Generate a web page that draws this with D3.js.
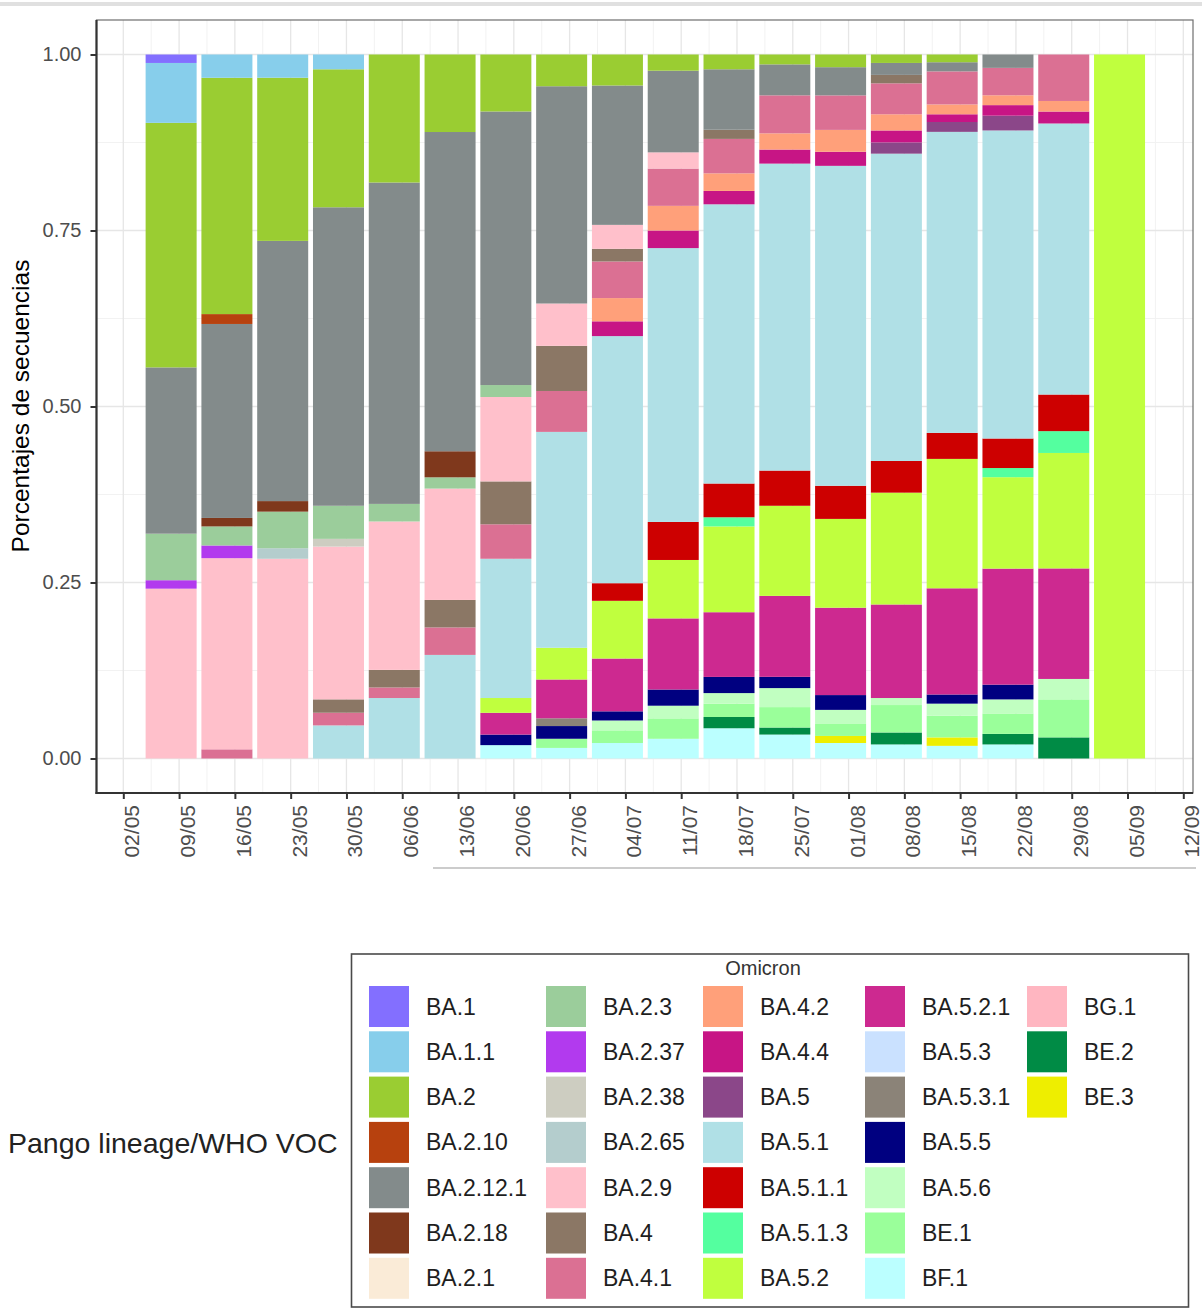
<!DOCTYPE html>
<html>
<head>
<meta charset="utf-8">
<script src="https://cdn.jsdelivr.net/npm/d3@7"></script>
<style>
  html, body { margin: 0; padding: 0; background: #fff; }
  svg { display: block; font-family: "Liberation Sans", Arial, Helvetica, sans-serif; }
</style>
</head>
<body>
<svg id="chart" width="1202" height="1310"></svg>
<script>
// Weekly share of Omicron lineages among sequenced samples (2022)
const weekLabels = ["09/05","16/05","23/05","30/05","06/06","13/06","20/06","27/06","04/07",
                    "11/07","18/07","25/07","01/08","08/08","15/08","22/08","29/08","05/09"];
const tickLabels = ["02/05","09/05","16/05","23/05","30/05","06/06","13/06","20/06","27/06","04/07",
                    "11/07","18/07","25/07","01/08","08/08","15/08","22/08","29/08","05/09","12/09"];
const yTicks = [0, 0.25, 0.5, 0.75, 1];

// Proportion of each lineage per week (one value per week above)
const BA_1      = [0.012,0,0,0,0,0,0,0,0,0,0,0,0,0,0,0,0,0];
const BA_1_1    = [0.085,0.033,0.033,0.021,0,0,0,0,0,0,0,0,0,0,0,0,0,0];
const BA_2      = [0.347,0.335,0.232,0.196,0.182,0.110,0.081,0.045,0.044,0.023,0.021,0.014,0.018,0.012,0.011,0,0,0];
const BA_2_1    = [0,0,0,0,0,0,0,0,0,0,0,0,0,0,0,0,0,0];
const BA_2_10   = [0,0.014,0,0,0,0,0,0,0,0,0,0,0,0,0,0,0,0];
const BA_2_12_1 = [0.236,0.275,0.370,0.424,0.457,0.453,0.389,0.308,0.198,0.116,0.086,0.044,0.040,0.017,0.013,0.019,0,0];
const BA_2_18   = [0,0.012,0.015,0,0,0.037,0,0,0,0,0,0,0,0,0,0,0,0];
const BA_2_3    = [0.066,0.027,0.052,0.047,0.025,0.016,0.017,0,0,0,0,0,0,0,0,0,0,0];
const BA_2_37   = [0.012,0.018,0,0,0,0,0,0,0,0,0,0,0,0,0,0,0,0];
const BA_2_38   = [0,0,0,0.011,0,0,0,0,0,0,0,0,0,0,0,0,0,0];
const BA_2_65   = [0,0,0.015,0,0,0,0,0,0,0,0,0,0,0,0,0,0,0];
const BA_2_9    = [0.241,0.271,0.284,0.217,0.211,0.158,0.120,0.060,0.034,0.023,0,0,0,0,0,0,0,0];
const BA_4      = [0,0,0,0.019,0.025,0.039,0.061,0.064,0.018,0,0.013,0,0,0.012,0,0,0,0];
const BA_4_1    = [0,0.013,0,0.018,0.015,0.039,0.049,0.058,0.052,0.053,0.049,0.054,0.049,0.044,0.047,0.039,0.066,0];
const BA_4_2    = [0,0,0,0,0,0,0,0,0.033,0.035,0.025,0.023,0.031,0.023,0.014,0.014,0.015,0];
const BA_4_4    = [0,0,0,0,0,0,0,0,0.021,0.025,0.019,0.020,0.020,0.017,0.011,0.015,0.017,0];
const BA_5      = [0,0,0,0,0,0,0,0,0,0,0,0,0,0.016,0.014,0.021,0,0];
const BA_5_1    = [0,0,0,0.047,0.086,0.147,0.198,0.306,0.351,0.389,0.397,0.436,0.454,0.437,0.428,0.438,0.385,0];
const BA_5_1_1  = [0,0,0,0,0,0,0,0,0.025,0.054,0.048,0.050,0.047,0.045,0.037,0.042,0.052,0];
const BA_5_1_3  = [0,0,0,0,0,0,0,0,0,0,0.013,0,0,0,0,0.013,0.031,0];
const BA_5_2    = [0,0,0,0,0,0,0.021,0.045,0.082,0.083,0.122,0.128,0.126,0.159,0.184,0.130,0.164,1.0];
const BA_5_2_1  = [0,0,0,0,0,0,0.031,0.055,0.075,0.101,0.092,0.115,0.124,0.133,0.151,0.165,0.157,0];
const BA_5_3    = [0,0,0,0,0,0,0,0,0,0,0,0,0,0,0,0,0,0];
const BA_5_3_1  = [0,0,0,0,0,0,0,0.011,0,0,0,0,0,0,0,0,0,0];
const BA_5_5    = [0,0,0,0,0,0,0.015,0.018,0.013,0.023,0.023,0.016,0.021,0,0.013,0.021,0,0];
const BA_5_6    = [0,0,0,0,0,0,0,0,0.014,0.018,0.015,0.027,0.020,0.010,0.017,0.020,0.029,0];
const BE_1      = [0,0,0,0,0,0,0,0.013,0.018,0.029,0.019,0.029,0.017,0.039,0.031,0.029,0.054,0];
const BE_2      = [0,0,0,0,0,0,0,0,0,0,0.016,0.010,0,0.017,0,0.015,0.030,0];
const BE_3      = [0,0,0,0,0,0,0,0,0,0,0,0,0.010,0,0.012,0,0,0];
const BF_1      = [0,0,0,0,0,0,0.019,0.015,0.022,0.028,0.043,0.034,0.022,0.020,0.018,0.020,0,0];
const BG_1      = [0,0,0,0,0,0,0,0,0,0,0,0,0,0,0,0,0,0];

// Lineage names in legend order (column by column) and their fills
const lineages = ["BA.1","BA.1.1","BA.2","BA.2.10","BA.2.12.1","BA.2.18","BA.2.1",
                  "BA.2.3","BA.2.37","BA.2.38","BA.2.65","BA.2.9","BA.4","BA.4.1",
                  "BA.4.2","BA.4.4","BA.5","BA.5.1","BA.5.1.1","BA.5.1.3","BA.5.2",
                  "BA.5.2.1","BA.5.3","BA.5.3.1","BA.5.5","BA.5.6","BE.1","BF.1",
                  "BG.1","BE.2","BE.3"];
const lineageColors = ["#836FFF","#87CEEB","#9ACD32","#B7410E","#838B8B","#7F381C","#FAEBD7",
                       "#9BCD9B","#B23AEE","#CDCDC1","#B4CDCD","#FFC0CB","#8B7765","#DB7093",
                       "#FFA07A","#C71585","#8B4789","#B0E0E6","#CD0000","#54FF9F","#C0FF3E",
                       "#CD2990","#CAE1FF","#8B8378","#000080","#C1FFC1","#9AFF9A","#BBFFFF",
                       "#FFB6C1","#008B45","#EEEE00"];
// Stacking order, top of each bar first
const stackOrder = ["BA.1","BA.1.1","BA.2","BA.2.1","BA.2.10","BA.2.12.1","BA.2.18","BA.2.3",
                    "BA.2.37","BA.2.38","BA.2.65","BA.2.9","BA.4","BA.4.1","BA.4.2","BA.4.4",
                    "BA.5","BA.5.1","BA.5.1.1","BA.5.1.3","BA.5.2","BA.5.2.1","BA.5.3","BA.5.3.1",
                    "BA.5.5","BA.5.6","BE.1","BE.2","BE.3","BF.1","BG.1"];

const seriesByName = {
  "BA.1": BA_1, "BA.1.1": BA_1_1, "BA.2": BA_2, "BA.2.1": BA_2_1, "BA.2.10": BA_2_10,
  "BA.2.12.1": BA_2_12_1, "BA.2.18": BA_2_18, "BA.2.3": BA_2_3, "BA.2.37": BA_2_37,
  "BA.2.38": BA_2_38, "BA.2.65": BA_2_65, "BA.2.9": BA_2_9, "BA.4": BA_4, "BA.4.1": BA_4_1,
  "BA.4.2": BA_4_2, "BA.4.4": BA_4_4, "BA.5": BA_5, "BA.5.1": BA_5_1, "BA.5.1.1": BA_5_1_1,
  "BA.5.1.3": BA_5_1_3, "BA.5.2": BA_5_2, "BA.5.2.1": BA_5_2_1, "BA.5.3": BA_5_3,
  "BA.5.3.1": BA_5_3_1, "BA.5.5": BA_5_5, "BA.5.6": BA_5_6, "BE.1": BE_1, "BE.2": BE_2,
  "BE.3": BE_3, "BF.1": BF_1, "BG.1": BG_1
};

const parseDM = s => { const [d, m] = s.split("/").map(Number); return new Date(Date.UTC(2022, m - 1, d)); };
const DAY = 864e5;

const svg = d3.select("#chart");
const panel = { left: 96.5, right: 1193, top: 20, bottom: 793 };

const x = d3.scaleUtc()
  .domain([parseDM(tickLabels[0]), parseDM(tickLabels[tickLabels.length - 1])])
  .range([123.3, 1183.3]);
const y = d3.scaleLinear().domain([0, 1]).range([758.5, 54.5]);
const color = d3.scaleOrdinal().domain(lineages).range(lineageColors);

// page decorations
svg.append("rect").attr("x", 0).attr("y", 2).attr("width", 1202).attr("height", 4).attr("fill", "#e0e0e0");
svg.append("line").attr("x1", 433).attr("x2", 1196).attr("y1", 868).attr("y2", 868)
  .attr("stroke", "#cccccc").attr("stroke-width", 2);

// panel background and grid
svg.append("rect").attr("x", panel.left).attr("y", panel.top)
  .attr("width", panel.right - panel.left).attr("height", panel.bottom - panel.top).attr("fill", "#fff");

const grid = svg.append("g");
const tickDates = tickLabels.map(parseDM);
const minorDates = tickDates.map(d => new Date(+d + 3.5 * DAY))
  .concat([new Date(+tickDates[0] - 3.5 * DAY)])
  .filter(d => x(d) > panel.left && x(d) < panel.right);
grid.selectAll(".vminor").data(minorDates).join("line")
  .attr("x1", d => x(d)).attr("x2", d => x(d)).attr("y1", panel.top).attr("y2", panel.bottom)
  .attr("stroke", "#f2f2f2").attr("stroke-width", 1);
grid.selectAll(".hminor").data([0.125, 0.375, 0.625, 0.875]).join("line")
  .attr("x1", panel.left).attr("x2", panel.right).attr("y1", d => y(d)).attr("y2", d => y(d))
  .attr("stroke", "#f2f2f2").attr("stroke-width", 1);
grid.selectAll(".vmajor").data(tickDates).join("line")
  .attr("x1", d => x(d)).attr("x2", d => x(d)).attr("y1", panel.top).attr("y2", panel.bottom)
  .attr("stroke", "#e6e6e6").attr("stroke-width", 1.3);
grid.selectAll(".hmajor").data(yTicks).join("line")
  .attr("x1", panel.left).attr("x2", panel.right).attr("y1", d => y(d)).attr("y2", d => y(d))
  .attr("stroke", "#e6e6e6").attr("stroke-width", 1.3);

// stacked bars, normalised to proportions
const rows = weekLabels.map((w, i) => {
  const r = { date: new Date(+parseDM(w) - DAY) };
  stackOrder.forEach(k => { r[k] = seriesByName[k][i]; });
  return r;
});
const stacked = d3.stack().keys(stackOrder.slice().reverse()).offset(d3.stackOffsetExpand)(rows);
const halfWidth = 3.2 * DAY;

svg.append("g").selectAll("g").data(stacked).join("g")
  .attr("fill", s => color(s.key))
  .selectAll("rect").data(s => s.filter(d => d[1] - d[0] > 0)).join("rect")
  .attr("x", d => x(new Date(+d.data.date - halfWidth)))
  .attr("width", d => x(new Date(+d.data.date + halfWidth)) - x(new Date(+d.data.date - halfWidth)))
  .attr("y", d => y(d[1]))
  .attr("height", d => y(d[0]) - y(d[1]));

// panel border and axis lines
svg.append("rect").attr("x", panel.left).attr("y", panel.top)
  .attr("width", panel.right - panel.left).attr("height", panel.bottom - panel.top)
  .attr("fill", "none").attr("stroke", "#6e6e6e").attr("stroke-width", 1.2);
svg.append("line").attr("x1", panel.left).attr("x2", panel.left).attr("y1", panel.top).attr("y2", panel.bottom + 1)
  .attr("stroke", "#333").attr("stroke-width", 2.2);
svg.append("line").attr("x1", panel.left - 1).attr("x2", panel.right).attr("y1", panel.bottom).attr("y2", panel.bottom)
  .attr("stroke", "#333").attr("stroke-width", 2.2);

// axes
const xAxis = svg.append("g").attr("transform", `translate(0,${panel.bottom})`)
  .call(d3.axisBottom(x).tickValues(tickDates).tickFormat(d3.utcFormat("%d/%m")).tickSize(6));
xAxis.select(".domain").remove();
xAxis.selectAll(".tick line").attr("stroke", "#333").attr("stroke-width", 2);
xAxis.selectAll(".tick text")
  .attr("transform", "rotate(-90)")
  .attr("x", -12).attr("y", 15.5).attr("dy", 0)
  .style("text-anchor", "end")
  .attr("fill", "#4d4d4d")
  .style("font-size", "21px")
  .style("font-family", "'Liberation Sans', Arial, sans-serif");

const yAxis = svg.append("g").attr("transform", `translate(${panel.left},0)`)
  .call(d3.axisLeft(y).tickValues(yTicks).tickFormat(d3.format(".2f")).tickSize(6).tickPadding(9));
yAxis.select(".domain").remove();
yAxis.selectAll(".tick line").attr("stroke", "#333").attr("stroke-width", 2);
yAxis.selectAll(".tick text")
  .attr("fill", "#4d4d4d")
  .style("font-size", "20px")
  .style("font-family", "'Liberation Sans', Arial, sans-serif");

svg.append("text")
  .attr("transform", "translate(29,406) rotate(-90)")
  .attr("text-anchor", "middle")
  .attr("fill", "#000")
  .style("font-size", "24.5px")
  .text("Porcentajes de secuencias");

// legend
const legend = svg.append("g");
legend.append("rect").attr("x", 351.5).attr("y", 954).attr("width", 837).attr("height", 353)
  .attr("fill", "#fff").attr("stroke", "#4a4a4a").attr("stroke-width", 1.6);
legend.append("text").attr("x", 763).attr("y", 975).attr("text-anchor", "middle")
  .attr("fill", "#333").style("font-size", "20px").text("Omicron");
svg.append("text").attr("x", 8).attr("y", 1153).attr("fill", "#222")
  .style("font-size", "28.5px").text("Pango lineage/WHO VOC");

const colLefts = [369, 546, 703, 865, 1027];
const rowStep = 45.3;
const items = legend.selectAll(".item").data(lineages).join("g")
  .attr("transform", (d, i) => `translate(${colLefts[Math.floor(i / 7)]},${986 + (i % 7) * rowStep})`);
items.append("rect").attr("width", 40).attr("height", 41).attr("fill", d => color(d));
items.append("text").attr("x", 57).attr("y", 28.5).attr("fill", "#1e1e1e")
  .style("font-size", "23px").text(d => d);
</script>
</body>
</html>
